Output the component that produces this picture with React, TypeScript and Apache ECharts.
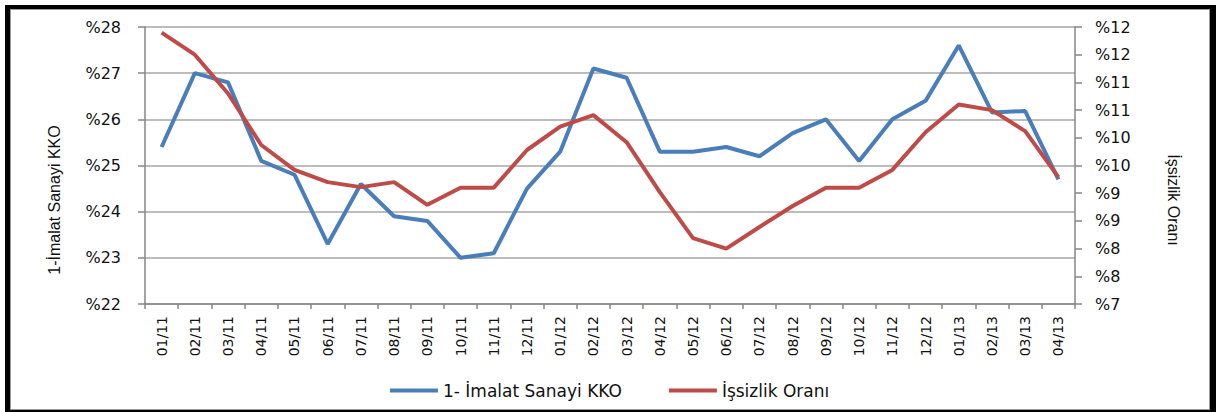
import React, { useEffect, useRef } from "react";
import * as echarts from "echarts";

const categories = [
  "01/11", "02/11", "03/11", "04/11", "05/11", "06/11", "07/11", "08/11", "09/11", "10/11", "11/11", "12/11",
  "01/12", "02/12", "03/12", "04/12", "05/12", "06/12", "07/12", "08/12", "09/12", "10/12", "11/12", "12/12",
  "01/13", "02/13", "03/13", "04/13",
];

const kkoValues = [
  25.4, 27.0, 26.8, 25.1, 24.8, 23.3, 24.6, 23.9, 23.8, 23.0, 23.1, 24.5,
  25.3, 27.1, 26.9, 25.3, 25.3, 25.4, 25.2, 25.7, 26.0, 25.1, 26.0, 26.4,
  27.6, 26.15, 26.18, 24.7,
];

const unemploymentValues = [
  11.9, 11.5, 10.8, 9.87, 9.42, 9.2, 9.11, 9.2, 8.79, 9.1, 9.1, 9.78,
  10.2, 10.41, 9.92, 9.02, 8.19, 8.0, 8.39, 8.77, 9.1, 9.1, 9.42, 10.1,
  10.6, 10.5, 10.12, 9.29,
];

const seriesNames = ["1- İmalat Sanayi KKO", "İşsizlik Oranı"];
const leftAxisName = "1-İmalat Sanayi KKO";
const rightAxisName = "İşsizlik Oranı";

const BLUE = "#4a7ebb";
const RED = "#be4b48";
const AXIS = "#868686";
const GRID = "#a6a6a6";
const TEXT = "#111";
const FONT = "DejaVu Sans";

export default function App() {
  const ref = useRef<HTMLDivElement>(null);

  useEffect(() => {
    if (!ref.current) return;
    const chart = echarts.init(ref.current, undefined, { renderer: "svg" });
    chart.setOption({
      animation: false,
      grid: { left: 145, right: 141, top: 27, bottom: 108, containLabel: false },
      legend: {
        left: 385,
        top: 377,
        icon: "rect",
        itemWidth: 48,
        itemHeight: 4,
        itemGap: 47,
        textStyle: { fontFamily: FONT, fontSize: 17, color: TEXT },
        data: seriesNames,
      },
      xAxis: {
        type: "category",
        data: categories,
        boundaryGap: true,
        axisLine: { lineStyle: { color: AXIS, width: 1.5 } },
        axisTick: { show: true, length: 5, lineStyle: { color: AXIS, width: 1.5 } },
        axisLabel: {
          rotate: 90,
          margin: 12,
          interval: 0,
          fontFamily: FONT,
          fontSize: 14,
          color: TEXT,
        },
      },
      yAxis: [
        {
          type: "value",
          min: 22,
          max: 28,
          interval: 1,
          axisLine: { show: true, lineStyle: { color: AXIS, width: 1.5 } },
          axisTick: { show: true, length: 7, lineStyle: { color: AXIS, width: 1.5 } },
          splitLine: { show: true, lineStyle: { color: GRID, width: 1.5 } },
          axisLabel: {
            margin: 24,
            fontFamily: FONT,
            fontSize: 16,
            color: TEXT,
            formatter: (v: number) => "%" + Math.round(v),
          },
        },
        {
          type: "value",
          min: 7,
          max: 12,
          interval: 0.5,
          position: "right",
          axisLine: { show: true, lineStyle: { color: AXIS, width: 1.5 } },
          axisTick: { show: true, length: 7, lineStyle: { color: AXIS, width: 1.5 } },
          splitLine: { show: false },
          axisLabel: {
            margin: 20,
            fontFamily: FONT,
            fontSize: 16,
            color: TEXT,
            formatter: (v: number) => "%" + Math.round(v),
          },
        },
      ],
      graphic: [
        {
          type: "text",
          x: 54,
          y: 200,
          rotation: Math.PI / 2,
          style: {
            text: leftAxisName,
            fontFamily: "Liberation Sans",
            fontSize: 16,
            fill: TEXT,
            align: "center",
            verticalAlign: "middle",
          },
        },
        {
          type: "text",
          x: 1173,
          y: 200,
          rotation: -Math.PI / 2,
          style: {
            text: rightAxisName,
            fontFamily: "Liberation Sans",
            fontSize: 16,
            fill: TEXT,
            align: "center",
            verticalAlign: "middle",
          },
        },
      ],
      series: [
        {
          name: seriesNames[0],
          type: "line",
          yAxisIndex: 0,
          data: kkoValues,
          symbol: "none",
          color: BLUE,
          lineStyle: { color: BLUE, width: 4 },
        },
        {
          name: seriesNames[1],
          type: "line",
          yAxisIndex: 1,
          data: unemploymentValues,
          symbol: "none",
          color: RED,
          lineStyle: { color: RED, width: 4 },
        },
      ],
    });
    return () => chart.dispose();
  }, []);

  return (
    <div style={{ position: "absolute", left: 0, top: 0, width: 1216, height: 412, background: "#fff" }}>
      <div style={{ position: "absolute", left: 5, top: 5, width: 1211, height: 407, background: "#000" }} />
      <div
        style={{
          position: "absolute",
          left: 10,
          top: 9,
          width: 1200,
          height: 401,
          boxSizing: "border-box",
          border: "1px solid #999",
          background: "#fff",
        }}
      />
      <div ref={ref} style={{ position: "absolute", left: 0, top: 0, width: 1216, height: 412 }} />
    </div>
  );
}
